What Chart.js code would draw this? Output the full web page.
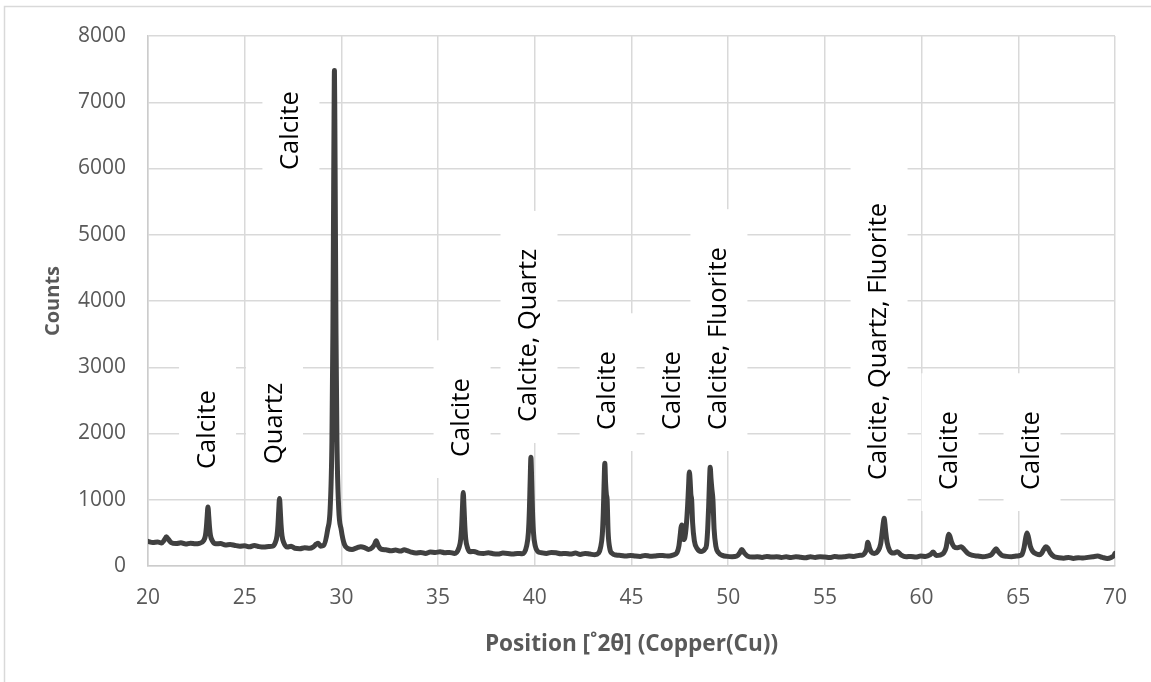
<!DOCTYPE html>
<html>
<head>
<meta charset="utf-8">
<script src="https://cdn.jsdelivr.net/npm/chart.js@4.4.1/dist/chart.umd.min.js"></script>
<style>
  html, body { margin: 0; padding: 0; background: #ffffff; }
  canvas { display: block; }
</style>
</head>
<body>
<canvas id="xrd" width="1151" height="682"></canvas>
<script>
// Diffraction pattern: position (°2θ) and intensity (counts)
const twoTheta = [
  20.00, 20.25, 20.50, 20.70, 20.85, 20.95, 21.05, 21.20, 21.45, 21.70,
  21.95, 22.20, 22.45, 22.65, 22.88, 22.97, 23.02, 23.06, 23.10, 23.14,
  23.18, 23.23, 23.32, 23.50, 23.75, 24.00, 24.25, 24.50, 24.75, 25.00,
  25.25, 25.50, 25.75, 26.00, 26.25, 26.45, 26.58, 26.67, 26.72, 26.76,
  26.80, 26.84, 26.88, 26.93, 27.02, 27.20, 27.40, 27.60, 27.85, 28.10,
  28.35, 28.55, 28.70, 28.80, 28.92, 29.08, 29.29, 29.42, 29.51, 29.56,
  29.60, 29.62, 29.64, 29.66, 29.68, 29.72, 29.77, 29.86, 29.99, 30.15,
  30.35, 30.55, 30.80, 31.00, 31.20, 31.40, 31.60, 31.72, 31.80, 31.90,
  32.05, 32.30, 32.55, 32.80, 33.05, 33.25, 33.40, 33.60, 33.85, 34.10,
  34.35, 34.60, 34.85, 35.10, 35.35, 35.60, 35.85, 36.08, 36.17, 36.22,
  36.26, 36.30, 36.34, 36.38, 36.43, 36.52, 36.65, 36.85, 37.10, 37.35,
  37.60, 37.85, 38.10, 38.35, 38.60, 38.85, 39.10, 39.35, 39.58, 39.67,
  39.72, 39.76, 39.80, 39.84, 39.88, 39.93, 40.02, 40.15, 40.35, 40.60,
  40.85, 41.10, 41.35, 41.60, 41.85, 42.10, 42.35, 42.60, 42.85, 43.10,
  43.30, 43.40, 43.49, 43.54, 43.58, 43.62, 43.66, 43.70, 43.74, 43.79,
  43.88, 44.00, 44.20, 44.45, 44.70, 44.95, 45.20, 45.45, 45.70, 45.95,
  46.20, 46.45, 46.70, 46.95, 47.15, 47.35, 47.45, 47.52, 47.56, 47.60,
  47.64, 47.69, 47.75, 47.83, 47.90, 47.95, 47.99, 48.03, 48.07, 48.11,
  48.16, 48.25, 48.40, 48.60, 48.80, 48.88, 48.94, 48.99, 49.03, 49.07,
  49.11, 49.16, 49.21, 49.27, 49.36, 49.50, 49.70, 49.95, 50.20, 50.45,
  50.60, 50.70, 50.82, 51.00, 51.25, 51.50, 51.75, 52.00, 52.25, 52.50,
  52.75, 53.00, 53.25, 53.50, 53.75, 54.00, 54.25, 54.50, 54.75, 55.00,
  55.25, 55.50, 55.75, 56.00, 56.25, 56.50, 56.75, 56.95, 57.05, 57.15,
  57.22, 57.30, 57.40, 57.55, 57.75, 57.88, 57.96, 58.02, 58.06, 58.10,
  58.15, 58.22, 58.35, 58.55, 58.75, 58.95, 59.20, 59.45, 59.70, 59.95,
  60.20, 60.45, 60.60, 60.75, 60.95, 61.15, 61.27, 61.34, 61.40, 61.46,
  61.55, 61.68, 61.85, 62.05, 62.20, 62.40, 62.65, 62.90, 63.15, 63.40,
  63.60, 63.75, 63.85, 63.97, 64.15, 64.40, 64.65, 64.90, 65.10, 65.20,
  65.30, 65.38, 65.45, 65.52, 65.62, 65.75, 65.95, 66.10, 66.20, 66.32,
  66.42, 66.52, 66.65, 66.85, 67.10, 67.35, 67.60, 67.85, 68.10, 68.35,
  68.60, 68.85, 69.10, 69.35, 69.60, 69.80, 69.95, 70.00
];
const counts = [
  372, 355, 362, 348, 395, 440, 405, 352, 338, 350,
  332, 345, 336, 342, 384, 461, 588, 752, 890, 752,
  588, 461, 384, 335, 338, 318, 325, 310, 300, 305,
  290, 310, 292, 285, 295, 300, 353, 455, 621, 839,
  1020, 839, 621, 455, 353, 285, 300, 268, 262, 275,
  268, 290, 330, 345, 300, 310, 550, 875, 1880, 3530,
  5685, 6760, 7480, 6760, 5685, 3530, 1880, 875, 550, 330,
  262, 248, 275, 290, 278, 250, 280, 330, 380, 310,
  255, 245, 230, 240, 225, 245, 232, 210, 195, 205,
  190, 210, 205, 215, 200, 205, 190, 277, 404, 612,
  884, 1110, 884, 612, 404, 277, 215, 220, 195, 190,
  200, 185, 180, 195, 190, 180, 190, 185, 306, 509,
  843, 1278, 1640, 1278, 843, 509, 306, 220, 200, 190,
  205, 200, 185, 190, 180, 195, 175, 190, 180, 170,
  195, 280, 474, 791, 1205, 1550, 1250, 1080, 1000, 520,
  260, 190, 165, 160, 150, 160, 150, 145, 160, 148,
  152, 160, 155, 150, 165, 200, 300, 470, 580, 620,
  520, 400, 420, 600, 900, 1200, 1420, 1300, 1080, 1000,
  650, 380, 260, 220, 260, 320, 560, 900, 1250, 1490,
  1320, 1150, 1000, 560, 300, 200, 160, 145, 140, 150,
  200, 250, 200, 150, 135, 140, 130, 145, 135, 140,
  130, 138, 128, 140, 132, 125, 138, 130, 140, 135,
  128, 142, 135, 140, 150, 145, 160, 165, 190, 250,
  360, 280, 210, 190, 230, 330, 500, 650, 720, 650,
  500, 350, 230, 195, 215, 165, 140, 145, 135, 150,
  145, 170, 210, 160, 165, 200, 280, 400, 480, 450,
  360, 290, 275, 290, 250, 190, 160, 150, 140, 150,
  170, 225, 260, 215, 160, 145, 140, 150, 160, 180,
  280, 420, 500, 440, 300, 220, 180, 170, 190, 250,
  290, 270, 200, 140, 125, 118, 130, 115, 125, 120,
  130, 140, 150, 130, 115, 130, 160, 190
];

// Axis ticks
const xTickValues = [20, 25, 30, 35, 40, 45, 50, 55, 60, 65, 70];
const yTickValues = [0, 1000, 2000, 3000, 4000, 5000, 6000, 7000, 8000];

// Phase identifications: text, centre position (°2θ) and the intensity where the text starts
const phaseNames = [
  'Calcite', 'Quartz', 'Calcite', 'Calcite', 'Calcite, Quartz', 'Calcite',
  'Calcite', 'Calcite, Fluorite', 'Calcite, Quartz, Fluorite', 'Calcite', 'Calcite'
];
const phaseAt2Theta = [23.08, 26.54, 27.39, 36.24, 39.70, 43.79, 47.15, 49.52, 57.80, 61.47, 65.71];
const phaseAtCounts = [1464, 1540, 5977, 1645, 2174, 2053, 2053, 2053, 1298, 1147, 1147];

const FONT = '"Open Sans", "Liberation Sans", sans-serif';
const TICK_COLOR = '#595959';
const GRID_COLOR = '#d9d9d9';

// White background plus the thin frame around the chart
const frame = {
  id: 'frame',
  beforeDraw(chart) {
    const { ctx, width, height } = chart;
    ctx.save();
    ctx.fillStyle = '#ffffff';
    ctx.fillRect(0, 0, width, height);
    ctx.strokeStyle = GRID_COLOR;
    ctx.lineWidth = 1.5;
    ctx.beginPath();
    ctx.moveTo(4.5, height + 2);
    ctx.lineTo(4.5, 6.5);
    ctx.lineTo(width + 2, 6.5);
    ctx.stroke();
    ctx.restore();
  }
};

// Vertical phase labels on white boxes, drawn over the grid and under the pattern
const phaseLabels = {
  id: 'phaseLabels',
  beforeDatasetsDraw(chart) {
    const { ctx, chartArea, scales: { x, y } } = chart;
    ctx.save();
    ctx.font = '25.5px ' + FONT;
    phaseNames.forEach((text, i) => {
      const cx = x.getPixelForValue(phaseAt2Theta[i]);
      const base = y.getPixelForValue(phaseAtCounts[i]);
      const len = ctx.measureText(text).width;
      const top = Math.max(base - len - 38, chartArea.top + 2);
      const bottom = Math.min(base + 21, chartArea.bottom - 2);
      ctx.fillStyle = '#ffffff';
      ctx.fillRect(cx - 28.5, top, 57, bottom - top);
      ctx.save();
      ctx.translate(cx, base);
      ctx.rotate(-Math.PI / 2);
      ctx.fillStyle = '#000000';
      ctx.textAlign = 'left';
      ctx.textBaseline = 'middle';
      ctx.fillText(text, 0, 0);
      ctx.restore();
    });
    ctx.restore();
  }
};

const points = twoTheta.map((t, i) => ({ x: t, y: counts[i] }));

new Chart(document.getElementById('xrd'), {
  type: 'line',
  data: {
    datasets: [{
      data: points,
      borderColor: '#404040',
      borderWidth: 5,
      borderJoinStyle: 'round',
      borderCapStyle: 'round',
      cubicInterpolationMode: 'monotone',
      pointRadius: 0,
      fill: false
    }]
  },
  options: {
    responsive: false,
    animation: false,
    events: [],
    layout: { padding: { top: 36, right: 36, left: 0, bottom: 0 } },
    plugins: {
      legend: { display: false },
      tooltip: { enabled: false }
    },
    scales: {
      x: {
        type: 'linear',
        min: 20,
        max: 70,
        afterFit(scale) { scale.height = 116; },
        afterBuildTicks(scale) { scale.ticks = xTickValues.map(v => ({ value: v })); },
        ticks: {
          padding: 19,
          color: TICK_COLOR,
          font: { family: FONT, size: 21 },
          maxRotation: 0,
          autoSkip: false,
          callback: v => String(v)
        },
        grid: { color: GRID_COLOR, lineWidth: 1.5, drawTicks: false },
        border: { color: '#cccccc', width: 1.5 },
        title: {
          display: true,
          text: 'Position [˚2θ] (Copper(Cu))',
          color: TICK_COLOR,
          font: { family: FONT, size: 22.6, weight: 'bold' },
          padding: { top: 0, bottom: 24 }
        }
      },
      y: {
        type: 'linear',
        min: 0,
        max: 8000,
        afterFit(scale) { scale.width = 148; },
        afterBuildTicks(scale) { scale.ticks = yTickValues.map(v => ({ value: v })); },
        ticks: {
          padding: 22,
          color: TICK_COLOR,
          font: { family: FONT, size: 21 },
          autoSkip: false,
          callback: v => String(v)
        },
        grid: { color: GRID_COLOR, lineWidth: 1.5, drawTicks: false },
        border: { color: '#cccccc', width: 1.5 },
        title: {
          display: true,
          text: 'Counts',
          color: TICK_COLOR,
          font: { family: FONT, size: 20, weight: 'bold' },
          padding: { top: 41, bottom: 0 }
        }
      }
    }
  },
  plugins: [frame, phaseLabels]
});
</script>
</body>
</html>
